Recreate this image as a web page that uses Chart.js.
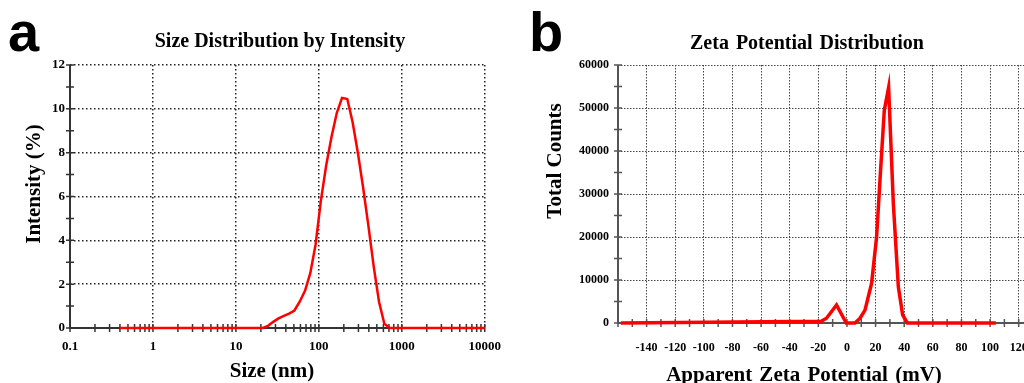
<!DOCTYPE html>
<html>
<head>
<meta charset="utf-8">
<script src="https://cdn.jsdelivr.net/npm/chart.js@4.4.1/dist/chart.umd.min.js"></script>
<style>
  html, body { margin: 0; padding: 0; background: #fff; }
  body { width: 1024px; height: 383px; position: relative; overflow: hidden; }
  canvas { position: absolute; top: 0; }
  #sizeChart { left: 0; }
  #zetaChart { left: 512px; }
  .txt { position: absolute; font-family: 'Liberation Serif', 'Times New Roman', serif; font-weight: bold; color: #000; white-space: nowrap; }
  .letter { position: absolute; font-family: 'Liberation Sans', Arial, sans-serif; font-weight: bold; font-size: 56px; line-height: 56px; color: #000; }
</style>
</head>
<body>
<canvas id="sizeChart" width="512" height="383"></canvas>
<canvas id="zetaChart" width="560" height="383"></canvas>

<div class="letter" style="left:8px;top:4px">a</div>
<div class="letter" style="left:529px;top:4px">b</div>

<div class="txt" style="left:280px;top:30px;font-size:20px;line-height:20px;transform:translateX(-50%)">Size Distribution by Intensity</div>
<div class="txt" style="left:272px;top:360px;font-size:21px;line-height:21px;transform:translateX(-50%)">Size (nm)</div>
<div class="txt" style="left:33px;top:184px;font-size:21px;line-height:21px;transform:translate(-50%,-50%) rotate(-90deg)">Intensity (%)</div>

<div class="txt" style="left:807px;top:32px;font-size:20px;line-height:20px;transform:translateX(-50%);word-spacing:2px">Zeta Potential Distribution</div>
<div class="txt" style="left:804px;top:364px;font-size:21px;line-height:21px;transform:translateX(-50%);word-spacing:2px">Apparent Zeta Potential (mV)</div>
<div class="txt" style="left:554px;top:161px;font-size:21px;line-height:21px;transform:translate(-50%,-50%) rotate(-90deg)">Total Counts</div>

<script>
// size distribution (nm, % intensity)
const sizeNm = [0.4, 21.04, 24.36, 28.21, 32.67, 37.84, 43.82, 50.75, 58.77, 68.06, 78.82, 91.28,
  105.7, 122.4, 141.8, 164.2, 190.1, 220.2, 255.0, 295.3, 342.0, 396.1, 458.7, 531.2, 615.1, 712.4, 10000];
const intensityPct = [0, 0, 0.1, 0.28, 0.44, 0.55, 0.66, 0.8, 1.2, 1.7, 2.5, 3.8,
  5.8, 7.4, 8.7, 9.8, 10.5, 10.45, 9.4, 8.0, 6.4, 4.65, 2.8, 1.2, 0.2, 0, 0];
const sizeTicks = [0.1, 1, 10, 100, 1000, 10000];
const intensityTicks = [0, 2, 4, 6, 8, 10, 12];

// zeta potential (mV, counts)
const zetaMv = [-158, -18, -14.3, -7.3, -0.5, 5.6, 9.1, 12.6, 17.2, 20.7, 23.5, 26.1, 29.1, 32.4, 35.9, 38.9, 42.2, 104];
const totalCounts = [0, 400, 1100, 4200, 0, 0, 1100, 3000, 9200, 20000, 35600, 49500, 54800, 27800, 8400, 1900, 0, 0];
const zetaTicks = [-140, -120, -100, -80, -60, -40, -20, 0, 20, 40, 60, 80, 100, 120];
const countTicks = [0, 10000, 20000, 30000, 40000, 50000, 60000];

const tickFont = size => ({ family: "'Liberation Serif', 'Times New Roman', serif", weight: 'bold', size: size });
const clear = 'rgba(0,0,0,0)';

// solid axes + small tick marks crossing them
const axisLines = {
  id: 'axisLines',
  beforeDatasetsDraw(chart, args, opts) {
    const { ctx, chartArea: a, scales: { x, y } } = chart;
    ctx.save();
    ctx.strokeStyle = opts.color;
    ctx.lineWidth = opts.width;
    ctx.beginPath();
    ctx.moveTo(a.left, a.top);
    ctx.lineTo(a.left, a.bottom);
    ctx.lineTo(a.right, a.bottom);
    ctx.stroke();
    ctx.lineWidth = opts.tickWidth;
    ctx.beginPath();
    x.ticks.forEach(t => {
      const px = x.getPixelForValue(t.value);
      ctx.moveTo(px, a.bottom - opts.len);
      ctx.lineTo(px, a.bottom + opts.len);
    });
    y.ticks.forEach(t => {
      const py = y.getPixelForValue(t.value);
      ctx.moveTo(a.left - opts.len, py);
      ctx.lineTo(a.left + opts.len, py);
    });
    ctx.stroke();
    ctx.restore();
  }
};

function logMinorTicks() {
  const out = [];
  for (let e = -1; e < 4; e++) {
    for (let k = 1; k < 10; k++) out.push({ value: parseFloat((k * Math.pow(10, e)).toPrecision(6)) });
  }
  out.push({ value: 10000 });
  return out;
}

new Chart(document.getElementById('sizeChart'), {
  type: 'line',
  data: {
    datasets: [{
      data: sizeNm.map((s, i) => ({ x: s, y: intensityPct[i] })),
      borderColor: '#ff0000',
      borderWidth: 2.5,
      pointRadius: 0,
      tension: 0,
      clip: false
    }]
  },
  options: {
    responsive: false,
    animation: false,
    layout: { padding: { top: 65, right: 24, bottom: 0, left: 0 } },
    plugins: {
      legend: { display: false },
      tooltip: { enabled: false },
      axisLines: { color: '#333', width: 2, tickWidth: 1.5, len: 4 }
    },
    scales: {
      x: {
        type: 'logarithmic',
        min: 0.1,
        max: 10000,
        afterFit: s => { s.height = 55; },
        afterBuildTicks: s => { s.ticks = logMinorTicks(); },
        grid: { color: c => (c.tick && sizeTicks.includes(c.tick.value)) ? '#222' : clear, lineWidth: 1.5, drawTicks: false },
        border: { display: false, dash: [1.5, 2.5] },
        ticks: { autoSkip: false, maxRotation: 0, padding: 11, color: '#000', font: tickFont(13),
          callback: v => sizeTicks.includes(v) ? String(v) : '' }
      },
      y: {
        min: 0,
        max: 12,
        afterFit: s => { s.width = 70; },
        grid: { color: c => (c.tick && intensityTicks.includes(c.tick.value)) ? '#222' : clear, lineWidth: 1.5, drawTicks: false },
        border: { display: false, dash: [1.5, 2.5] },
        ticks: { stepSize: 1, autoSkip: false, padding: 5, color: '#000', font: tickFont(13),
          callback: v => intensityTicks.includes(v) ? String(v) : '' }
      }
    }
  },
  plugins: [axisLines]
});

new Chart(document.getElementById('zetaChart'), {
  type: 'line',
  data: {
    datasets: [{
      data: zetaMv.map((z, i) => ({ x: z, y: totalCounts[i] })),
      borderColor: '#ff0000',
      borderWidth: 3.5,
      pointRadius: 0,
      tension: 0,
      clip: false
    }]
  },
  options: {
    responsive: false,
    animation: false,
    layout: { padding: { top: 65, right: 39, bottom: 0, left: 0 } },
    plugins: {
      legend: { display: false },
      tooltip: { enabled: false },
      axisLines: { color: '#555', width: 2, tickWidth: 1.5, len: 4 }
    },
    scales: {
      x: {
        type: 'linear',
        min: -160,
        max: 130,
        afterFit: s => { s.height = 60; },
        grid: { color: c => (c.tick && (zetaTicks.includes(c.tick.value) || c.tick.value === -160)) ? '#444' : clear, lineWidth: 1, drawTicks: false },
        border: { display: false, dash: [1.5, 1.5] },
        ticks: { stepSize: 10, autoSkip: false, maxRotation: 0, padding: 18, color: '#000', font: tickFont(12),
          callback: v => zetaTicks.includes(v) ? String(v) : '' }
      },
      y: {
        min: 0,
        max: 60000,
        afterFit: s => { s.width = 106; },
        grid: { color: c => (c.tick && countTicks.includes(c.tick.value)) ? '#444' : clear, lineWidth: 1, drawTicks: false },
        border: { display: false, dash: [1.5, 1.5] },
        ticks: { stepSize: 5000, autoSkip: false, padding: 9, color: '#000', font: tickFont(12),
          callback: v => countTicks.includes(v) ? String(v) : '' }
      }
    }
  },
  plugins: [axisLines]
});
</script>
</body>
</html>
